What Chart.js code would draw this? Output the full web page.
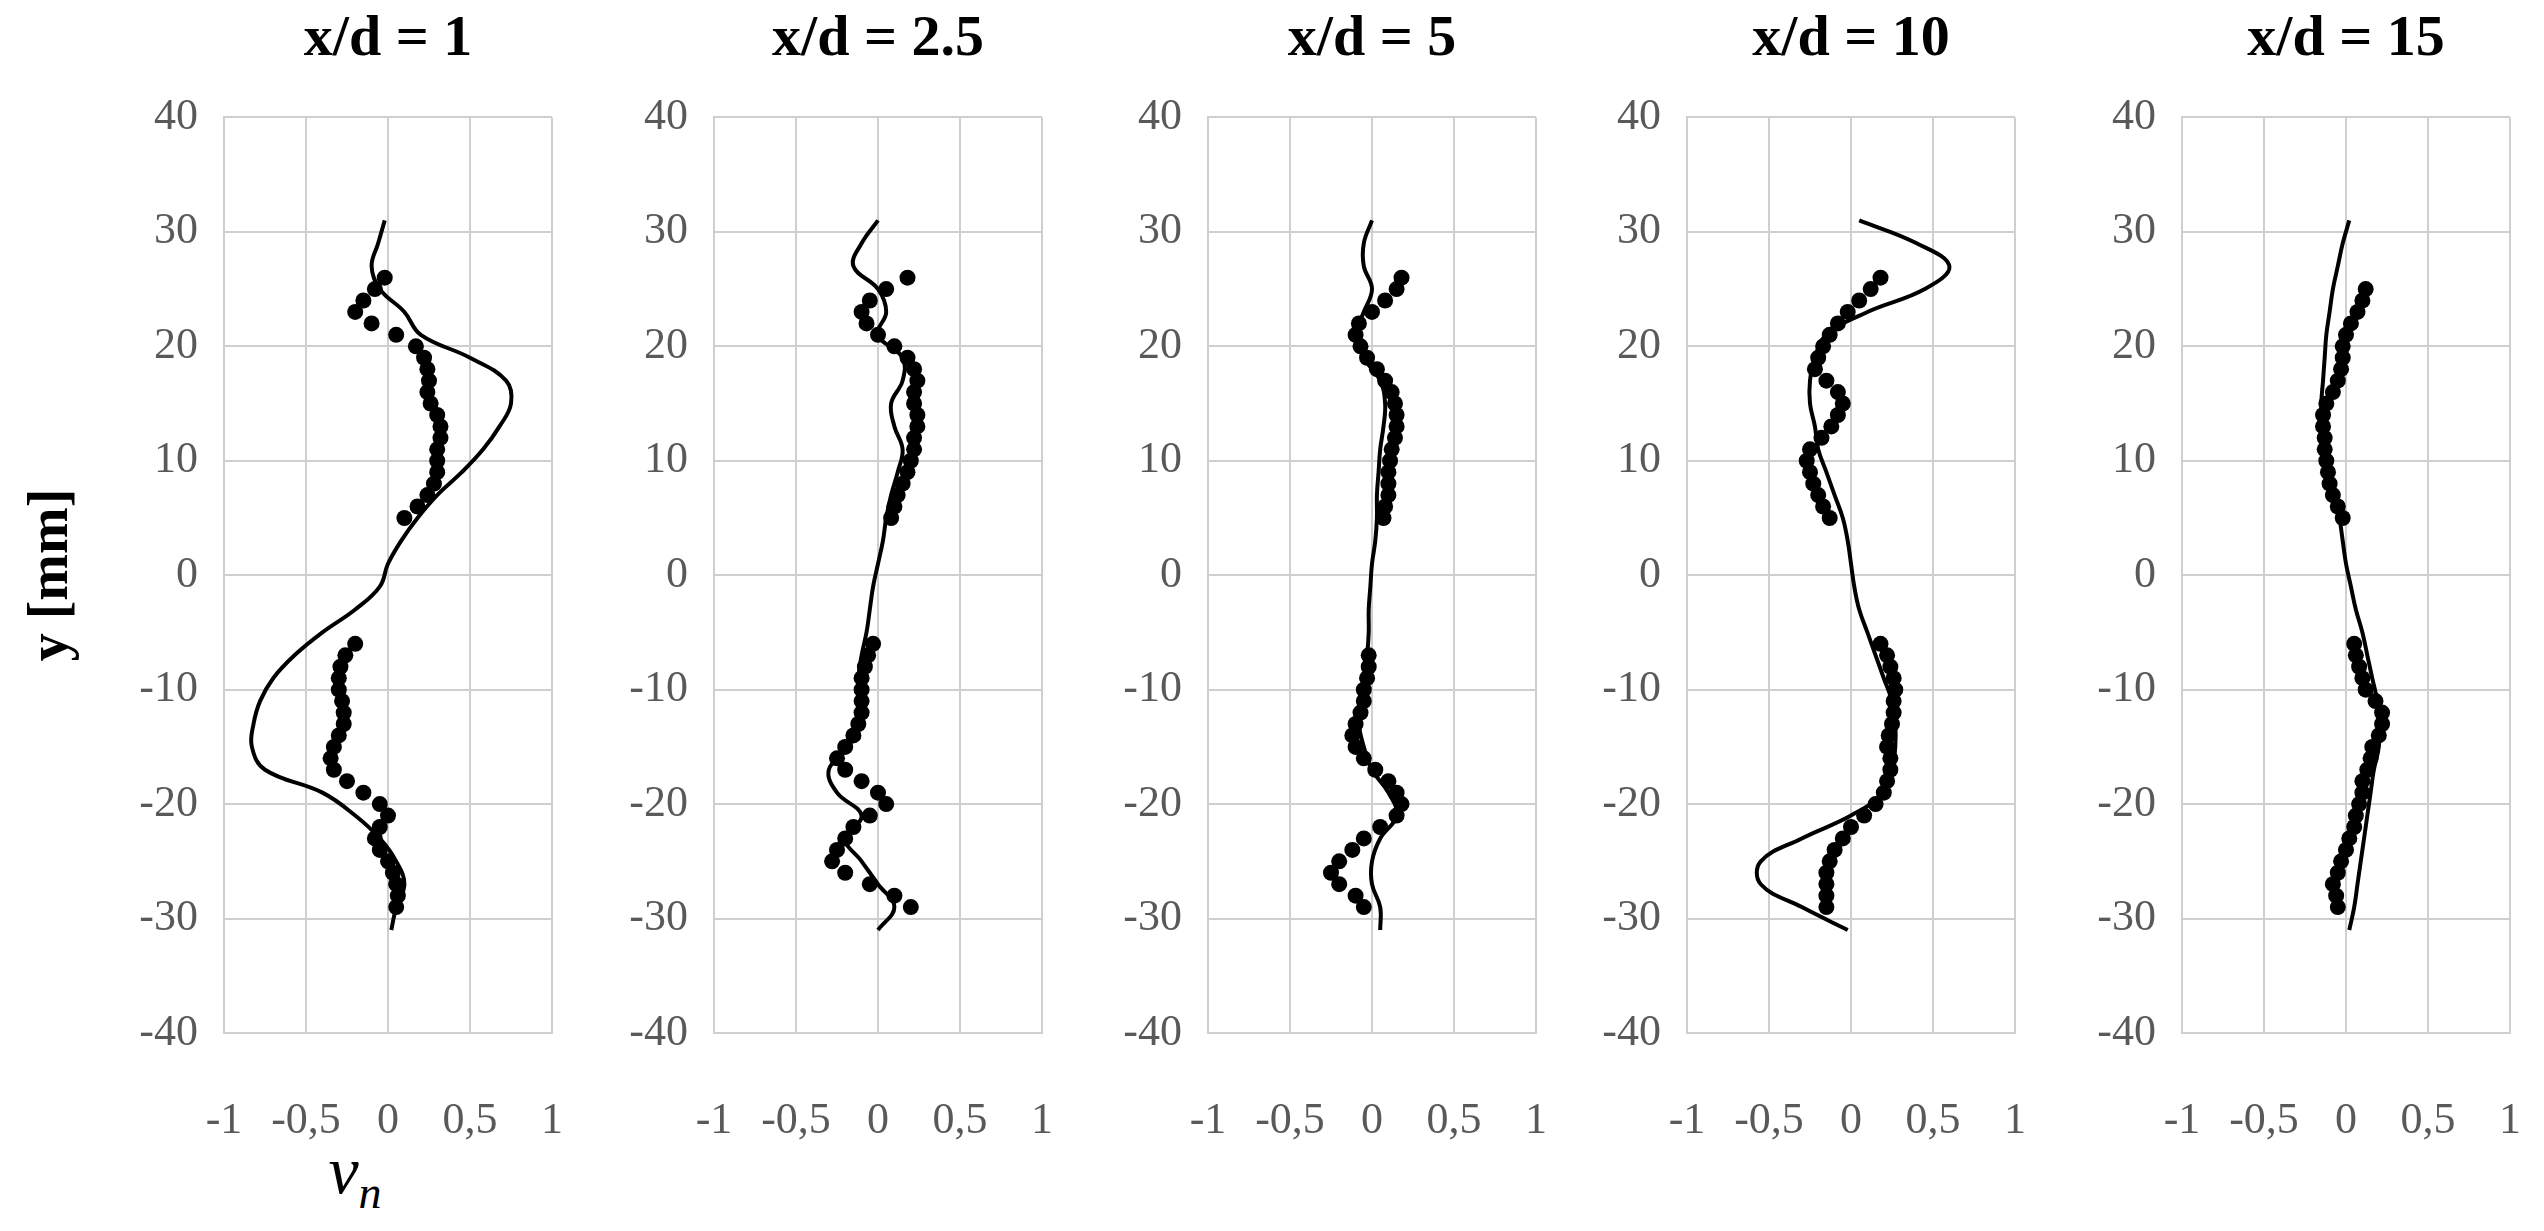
<!DOCTYPE html>
<html>
<head>
<meta charset="utf-8">
<script src="https://cdn.jsdelivr.net/npm/chart.js@4.4.1/dist/chart.umd.min.js"></script>
<style>
  body { margin: 0; background: #fff; width: 2544px; height: 1231px; position: relative; overflow: hidden; }
  .box { position: absolute; top: 65px; height: 1100px; }
  .title { position: absolute; top: 2px; width: 328px; text-align: center; font: bold 58px "Liberation Serif", serif; color: #000; }
  #ylab { position: absolute; left: 48px; top: 575px; transform: translate(-50%, -50%) rotate(-90deg); font: bold 56px "Liberation Serif", serif; white-space: nowrap; }
  #xlab { position: absolute; left: 355px; top: 1175px; transform: translate(-50%, -50%); font: italic 68px "Liberation Serif", serif; }
  #xlab sub { font-size: 46px; }
</style>
</head>
<body>
<div id="ylab">y [mm]</div>
<div id="xlab">v<sub>n</sub></div>
<script>
const titles = ["x/d = 1", "x/d = 2.5", "x/d = 5", "x/d = 10", "x/d = 15"];
const plotLefts = [224, 714, 1208, 1687, 2182];
const xTicks = [-1, -0.5, 0, 0.5, 1];
const yTicks = [-40, -30, -20, -10, 0, 10, 20, 30, 40];

// simulation curve, y from 31 down to -31 step 2
const yLine = [31, 29, 27, 25, 23, 21, 19, 17, 15, 13, 11, 9, 7, 5, 3, 1, -1, -3, -5, -7, -9, -11, -13, -15, -17, -19, -21, -23, -25, -27, -29, -31];
const line1 = [-0.02, -0.06, -0.1, -0.05, 0.1, 0.2, 0.5, 0.72, 0.75, 0.68, 0.58, 0.45, 0.3, 0.18, 0.08, 0.0, -0.05, -0.2, -0.4, -0.57, -0.7, -0.78, -0.82, -0.83, -0.75, -0.4, -0.2, -0.05, 0.05, 0.1, 0.05, 0.02];
const line2 = [0.0, -0.1, -0.15, 0.0, 0.05, 0.0, 0.15, 0.15, 0.08, 0.1, 0.15, 0.12, 0.08, 0.05, 0.03, 0.0, -0.03, -0.05, -0.07, -0.1, -0.12, -0.12, -0.13, -0.18, -0.3, -0.25, -0.1, -0.2, -0.1, 0.0, 0.1, 0.0];
const line3 = [0.0, -0.05, -0.05, 0.0, -0.05, -0.1, -0.05, 0.05, 0.08, 0.07, 0.05, 0.04, 0.03, 0.03, 0.02, 0.0, -0.01, -0.02, -0.02, -0.03, -0.05, -0.07, -0.08, -0.05, 0.0, 0.1, 0.15, 0.05, 0.0, 0.0, 0.05, 0.05];
const line4 = [0.05, 0.4, 0.6, 0.45, 0.1, -0.15, -0.22, -0.25, -0.25, -0.22, -0.2, -0.15, -0.1, -0.05, -0.02, 0.0, 0.02, 0.05, 0.1, 0.15, 0.2, 0.25, 0.27, 0.27, 0.25, 0.2, 0.0, -0.3, -0.55, -0.55, -0.3, -0.02];
const line5 = [0.02, -0.02, -0.05, -0.08, -0.1, -0.12, -0.13, -0.14, -0.15, -0.14, -0.12, -0.1, -0.07, -0.04, -0.02, 0.0, 0.03, 0.06, 0.1, 0.13, 0.16, 0.19, 0.2, 0.2, 0.17, 0.15, 0.13, 0.11, 0.09, 0.07, 0.05, 0.02];

// measurements, upper part y 26..5 and lower part y -6..-29
const yDots = [26, 25, 24, 23, 22, 21, 20, 19, 18, 17, 16, 15, 14, 13, 12, 11, 10, 9, 8, 7, 6, 5,
  -6, -7, -8, -9, -10, -11, -12, -13, -14, -15, -16, -17, -18, -19, -20, -21, -22, -23, -24, -25, -26, -27, -28, -29];
const dots1 = [-0.02, -0.08, -0.15, -0.2, -0.1, 0.05, 0.17, 0.22, 0.24, 0.25, 0.24, 0.26, 0.3, 0.32, 0.32, 0.3, 0.3, 0.3, 0.28, 0.24, 0.18, 0.1,
  -0.2, -0.26, -0.29, -0.3, -0.3, -0.28, -0.27, -0.27, -0.3, -0.33, -0.35, -0.33, -0.25, -0.15, -0.05, 0, -0.05, -0.08, -0.05, 0, 0.03, 0.05, 0.06, 0.05];
const dots2 = [0.18, 0.05, -0.05, -0.1, -0.07, 0.0, 0.1, 0.18, 0.22, 0.24, 0.22, 0.22, 0.24, 0.24, 0.22, 0.22, 0.2, 0.18, 0.15, 0.12, 0.1, 0.08,
  -0.03, -0.06, -0.08, -0.1, -0.1, -0.1, -0.1, -0.12, -0.15, -0.2, -0.25, -0.2, -0.1, 0.0, 0.05, -0.05, -0.15, -0.2, -0.25, -0.28, -0.2, -0.05, 0.1, 0.2];
const dots3 = [0.18, 0.15, 0.08, 0.0, -0.08, -0.1, -0.07, -0.03, 0.03, 0.08, 0.12, 0.14, 0.15, 0.15, 0.14, 0.12, 0.11, 0.1, 0.1, 0.1, 0.08, 0.07,
  null, -0.02, -0.02, -0.03, -0.05, -0.05, -0.07, -0.1, -0.12, -0.1, -0.05, 0.02, 0.1, 0.15, 0.18, 0.15, 0.05, -0.05, -0.12, -0.2, -0.25, -0.2, -0.1, -0.05];
const dots4 = [0.18, 0.12, 0.05, -0.02, -0.08, -0.13, -0.17, -0.2, -0.22, -0.15, -0.08, -0.05, -0.08, -0.12, -0.18, -0.25, -0.27, -0.25, -0.23, -0.2, -0.17, -0.13,
  0.18, 0.22, 0.24, 0.26, 0.27, 0.26, 0.26, 0.25, 0.23, 0.22, 0.24, 0.24, 0.22, 0.2, 0.15, 0.08, 0.0, -0.05, -0.1, -0.13, -0.15, -0.15, -0.15, -0.15];
const dots5 = [null, 0.12, 0.1, 0.07, 0.03, 0.0, -0.02, -0.02, -0.03, -0.05, -0.08, -0.12, -0.14, -0.14, -0.13, -0.13, -0.12, -0.11, -0.1, -0.08, -0.05, -0.02,
  0.05, 0.06, 0.08, 0.1, 0.12, 0.18, 0.22, 0.22, 0.2, 0.16, 0.15, 0.13, 0.1, 0.1, 0.08, 0.06, 0.05, 0.02, 0.0, -0.03, -0.05, -0.08, -0.06, -0.05];

const lines = [line1, line2, line3, line4, line5];
const dots = [dots1, dots2, dots3, dots4, dots5];

const tickFont = { family: "Liberation Serif", size: 44 };
const tickColor = "#595959";
const gridColor = "#cfcfcf";
const yAxisW = 150;
const padR = 40;

function pts(xs, ys) {
  const out = [];
  xs.forEach((x, i) => { if (x !== null) out.push({ x: x, y: ys[i] }); });
  return out;
}

titles.forEach((t, i) => {
  const box = document.createElement("div");
  box.className = "box";
  box.style.left = (plotLefts[i] - yAxisW) + "px";
  box.style.width = (yAxisW + 328 + padR + 33) + "px";
  const cv = document.createElement("canvas");
  box.appendChild(cv);
  document.body.appendChild(box);

  const tl = document.createElement("div");
  tl.className = "title";
  tl.style.left = plotLefts[i] + "px";
  tl.textContent = t;
  document.body.appendChild(tl);

  new Chart(cv, {
    type: "scatter",
    data: {
      datasets: [
        {
          data: pts(dots[i], yDots),
          showLine: false,
          pointRadius: 8,
          pointBackgroundColor: "#000",
          pointBorderColor: "#000",
          pointBorderWidth: 0,
        },
        {
          data: pts(lines[i], yLine),
          showLine: true,
          borderColor: "#000",
          borderWidth: 4,
          pointRadius: 0,
          tension: 0.4,
        },
      ],
    },
    options: {
      responsive: true,
      maintainAspectRatio: false,
      animation: false,
      layout: { padding: { top: 20, right: padR, left: 0, bottom: 0 } },
      plugins: { legend: { display: false }, tooltip: { enabled: false } },
      scales: {
        x: {
          type: "linear",
          min: -1, max: 1,
          afterBuildTicks: (ax) => { ax.ticks = xTicks.map((v) => ({ value: v })); },
          afterFit: (ax) => { ax.height = 132; },
          ticks: { font: tickFont, color: tickColor, padding: 62, maxRotation: 0, autoSkip: false,
                   callback: (v) => String(v).replace(".", ",") },
          grid: { color: gridColor, lineWidth: 2, drawTicks: false },
          border: { color: gridColor, width: 2 },
        },
        y: {
          type: "linear",
          min: -40, max: 40,
          afterBuildTicks: (ax) => { ax.ticks = yTicks.map((v) => ({ value: v })); },
          afterFit: (ax) => { ax.width = yAxisW; },
          ticks: { font: tickFont, color: tickColor, padding: 26, autoSkip: false },
          grid: { color: gridColor, lineWidth: 2, drawTicks: false },
          border: { color: gridColor, width: 2 },
        },
      },
    },
  });
});
</script>
</body>
</html>
